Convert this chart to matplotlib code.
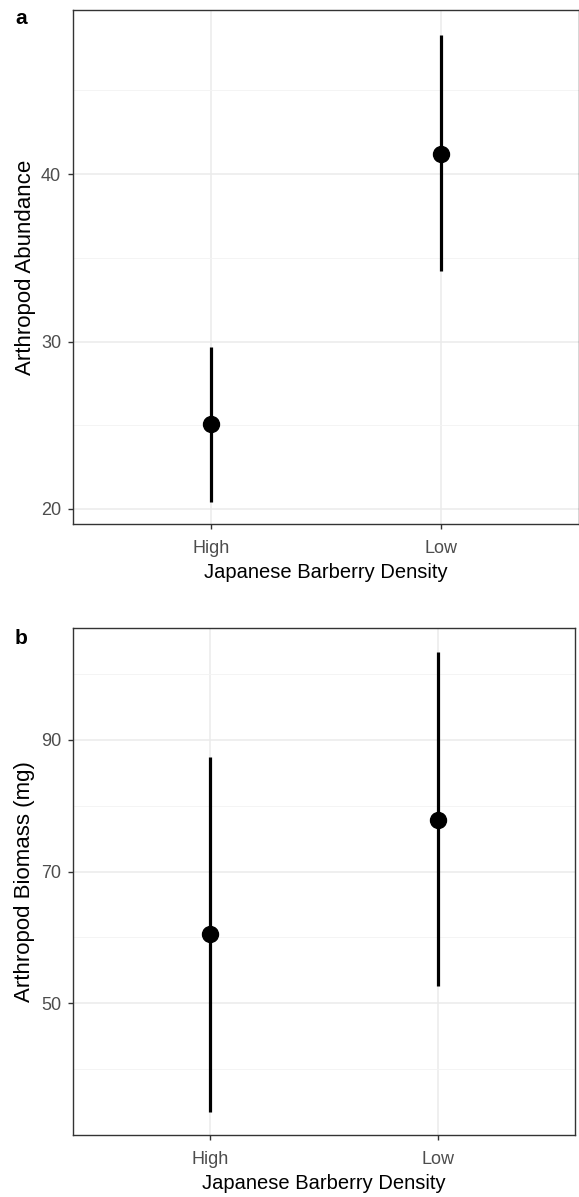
import matplotlib
matplotlib.use('Agg')
import matplotlib.pyplot as plt
from matplotlib.ticker import FixedLocator

# datos
densidad = ['High', 'Low']
abund_media = [25.1, 41.2]
abund_inf = [20.4, 34.2]
abund_sup = [29.7, 48.3]
biomasa_media = [60.5, 77.9]
biomasa_inf = [33.5, 52.6]
biomasa_sup = [87.4, 103.3]

fig = plt.figure(figsize=(5.79, 11.97), dpi=100)
plt.rcParams['font.family'] = ['Liberation Sans', 'DejaVu Sans']

ax_a = fig.add_axes([0.1261, 0.5622, 0.8739, 0.4294])
ax_b = fig.add_axes([0.1261, 0.0518, 0.8670, 0.4236])

def dibujar(ax, medias, inf, sup, ylabel, ylim, mayor, menor):
    x = range(len(densidad))
    ax.vlines(x, inf, sup, color='black', linewidth=2.3, zorder=3)
    ax.plot(x, medias, 'o', color='black', markersize=11.5, zorder=4)
    ax.set_xlim(-0.6, 1.6)
    ax.set_ylim(*ylim)
    ax.set_xticks(list(x))
    ax.set_xticklabels(densidad)
    ax.yaxis.set_major_locator(FixedLocator(mayor))
    ax.yaxis.set_minor_locator(FixedLocator(menor))
    ax.grid(True, which='major', color='#EBEBEB', linewidth=1.1, zorder=0)
    ax.grid(True, which='minor', axis='y', color='#F3F3F3', linewidth=0.6, zorder=0)
    ax.tick_params(which='major', length=3.5, width=1.0, color='#333333',
                   labelcolor='#4D4D4D', labelsize=13)
    ax.tick_params(axis='x', pad=8)
    ax.tick_params(axis='y', pad=5)
    ax.tick_params(which='minor', length=0)
    for s in ax.spines.values():
        s.set_color('#333333')
        s.set_linewidth(1.0)
    ax.set_axisbelow(True)
    ax.set_ylabel(ylabel, fontsize=16, color='black', labelpad=4)
    ax.set_xlabel('Japanese Barberry Density', fontsize=14.5, color='black', labelpad=4)

dibujar(ax_a, abund_media, abund_inf, abund_sup, 'Arthropod Abundance',
        (19.1, 49.8), [20, 30, 40], [25, 35, 45])
dibujar(ax_b, biomasa_media, biomasa_inf, biomasa_sup, 'Arthropod Biomass (mg)',
        (30, 107), [50, 70, 90], [40, 60, 80, 100])

fig.text(15 / 579, 1 - 19 / 1197, 'a', fontsize=15, fontweight='bold', va='center')
fig.text(15 / 579, 1 - 638 / 1197, 'b', fontsize=15, fontweight='bold', va='center')

fig.savefig('out.png', dpi=100)
